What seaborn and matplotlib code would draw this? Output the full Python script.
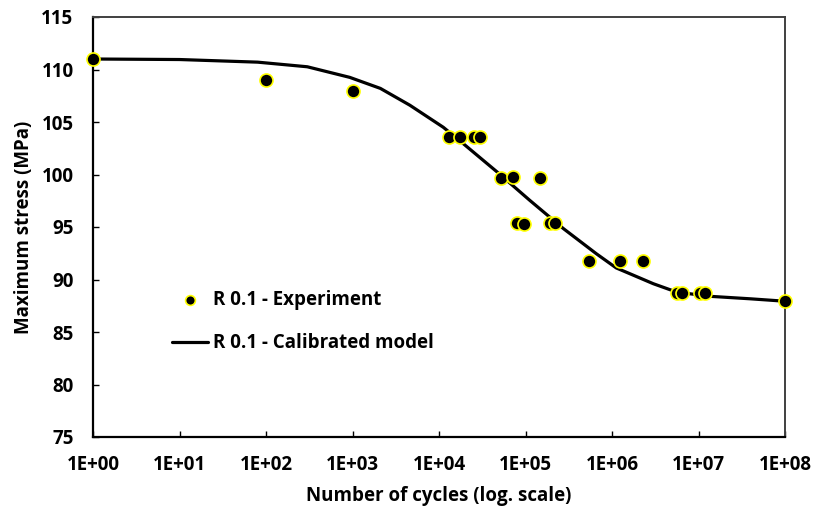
import numpy as np
import pandas as pd
import matplotlib
matplotlib.use("Agg")
import matplotlib.pyplot as plt
from matplotlib.ticker import FixedLocator, FuncFormatter, NullLocator
import seaborn as sns

# Fatigue tests at R = 0.1: number of cycles and maximum stress (MPa)
exp_cycles = [1, 1e2, 1e3,
              1.3e4, 1.75e4, 2.55e4, 3.0e4,
              5.2e4, 7.2e4, 1.47e5,
              7.9e4, 9.7e4, 1.92e5, 2.2e5,
              5.4e5, 1.23e6, 2.3e6,
              5.6e6, 6.4e6, 1.04e7, 1.19e7,
              1e8]
exp_stress = [111.0, 109.0, 108.0,
              103.6, 103.6, 103.6, 103.6,
              99.7, 99.8, 99.7,
              95.4, 95.3, 95.4, 95.4,
              91.8, 91.8, 91.8,
              88.75, 88.75, 88.75, 88.75,
              88.0]

# Calibrated model curve
model_cycles = [1, 1e1, 8e1, 3e2, 9.3e2, 2.1e3, 4.6e3, 1.12e4, 1.9e4, 4.7e4,
                1.12e5, 2.75e5, 6.6e5, 1.12e6, 1.62e6, 3.0e6, 5.6e6, 1.35e7,
                4e7, 1e8]
model_stress = [111.0, 110.95, 110.7, 110.26, 109.25, 108.2, 106.6, 104.5,
                102.95, 100.24, 97.54, 94.84, 92.45, 91.1, 90.54, 89.6, 88.8,
                88.4, 88.16, 87.93]

x_tick_values = [1e0, 1e1, 1e2, 1e3, 1e4, 1e5, 1e6, 1e7, 1e8]
y_tick_values = [75, 80, 85, 90, 95, 100, 105, 110, 115]

exp_label = "R 0.1 - Experiment"
model_label = "R 0.1 - Calibrated model"

sns.set_theme(style="white")
plt.rcParams["font.family"] = ["Open Sans", "DejaVu Sans"]
plt.rcParams["font.weight"] = "bold"

fig = plt.figure(figsize=(8.14, 5.13), dpi=100)
ax = fig.add_axes([93 / 814, 1 - 437 / 513, (785 - 93) / 814, (437 - 17) / 513])

df_exp = pd.DataFrame({"N": exp_cycles, "S": exp_stress})
df_mod = pd.DataFrame({"N": model_cycles, "S": model_stress})

sns.lineplot(data=df_mod, x="N", y="S", ax=ax, color="black", linewidth=2.3,
             label=model_label, zorder=2, sort=True, estimator=None)
sns.scatterplot(data=df_exp, x="N", y="S", ax=ax, color="black", s=88,
                edgecolor="#FFFF00", linewidth=1.2, label=exp_label,
                zorder=3, clip_on=False)

ax.set_xscale("log")
ax.set_xlim(1, 1e8)
ax.set_ylim(75, 115)

ax.xaxis.set_major_locator(FixedLocator(x_tick_values))
ax.xaxis.set_minor_locator(NullLocator())
ax.xaxis.set_major_formatter(FuncFormatter(lambda v, p: "1E+%02d" % int(round(np.log10(v)))))
ax.yaxis.set_major_locator(FixedLocator(y_tick_values))
ax.yaxis.set_major_formatter(FuncFormatter(lambda v, p: "%d" % v))

ax.tick_params(axis="both", which="major", direction="in", length=4.5, width=1.0,
               color="black", labelsize=13.5, labelcolor="black")
ax.tick_params(axis="x", pad=13, bottom=True)
ax.tick_params(axis="y", pad=14, left=True)
for lbl in ax.get_xticklabels() + ax.get_yticklabels():
    lbl.set_fontweight("bold")

for side in ["left", "bottom"]:
    ax.spines[side].set_color("black")
    ax.spines[side].set_linewidth(1.6)
for side in ["top", "right"]:
    ax.spines[side].set_color("#404040")
    ax.spines[side].set_linewidth(1.4)
    ax.spines[side].set_visible(True)

ax.set_xlabel("Number of cycles (log. scale)", fontsize=13.5, fontweight="bold",
              color="black", labelpad=8)
ax.set_ylabel("Maximum stress (MPa)", fontsize=13.5, fontweight="bold",
              color="black", labelpad=5)

handles, labels = ax.get_legend_handles_labels()
order = [labels.index(exp_label), labels.index(model_label)]
leg = ax.legend([handles[i] for i in order], [labels[i] for i in order],
                loc="upper left", bbox_to_anchor=(172 / 814, 1 - 290 / 513),
                bbox_transform=fig.transFigure, frameon=False,
                prop={"size": 13.5, "weight": "bold"},
                handlelength=1.9, handletextpad=0.3, labelspacing=1.25,
                borderpad=0, borderaxespad=0, markerscale=0.75)
for t in leg.get_texts():
    t.set_color("black")

fig.savefig("out.png", dpi=100)
